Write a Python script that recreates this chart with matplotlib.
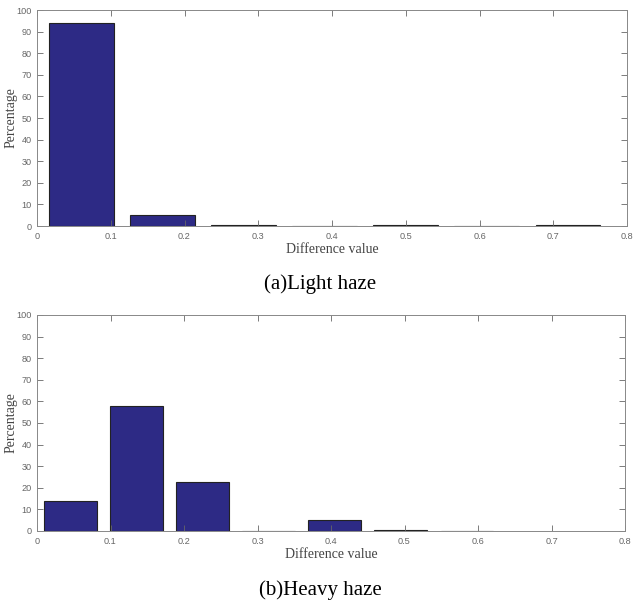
import numpy as np
import matplotlib
matplotlib.use("Agg")
import matplotlib.pyplot as plt

# histogram bin centres and percentages
light_centers = [0.06, 0.17, 0.28, 0.39, 0.50, 0.61, 0.72]
light_pct = [94.2, 5.0, 0.3, 0.2, 0.3, 0.0, 0.3]
heavy_centers = [0.045, 0.135, 0.225, 0.315, 0.405, 0.495, 0.585]
heavy_pct = [13.8, 58.0, 22.6, 0.0, 5.0, 0.3, 0.1]

captions = ["(a)Light haze", "(b)Heavy haze"]
x_ticks = [0, 0.1, 0.2, 0.3, 0.4, 0.5, 0.6, 0.7, 0.8]
y_ticks = list(range(0, 101, 10))

bar_color = "#2d2a85"
serif = "Liberation Serif"


def draw_panel(ax, centers, pct, width):
    ax.bar(centers, pct, width=width, color=bar_color, edgecolor="#222222", linewidth=0.8)
    ax.set_xlim(0, 0.8)
    ax.set_ylim(0, 100)
    ax.set_xticks(x_ticks)
    ax.set_xticklabels([f"{t:g}" for t in x_ticks])
    ax.set_yticks(y_ticks)
    ax.tick_params(direction="in", length=4, width=0.6, top=True, right=True,
                   labelsize=6.6, labelcolor="#666666", color="#666666", pad=4)
    for lab in ax.get_xticklabels() + ax.get_yticklabels():
        lab.set_fontfamily("Liberation Sans")
    for s in ax.spines.values():
        s.set_color("#888888")
        s.set_linewidth(0.7)
    ax.set_xlabel("Difference value", fontfamily=serif, fontsize=10, color="#444444", labelpad=2)
    ax.set_ylabel("Percentage", fontfamily=serif, fontsize=10, color="#444444")
    ax.yaxis.set_label_coords(-0.033, 0.5)


def main():
    fig = plt.figure(figsize=(6.33, 6.05), dpi=100)
    W, H = 633, 605
    ax1 = fig.add_axes([37 / W, 1 - 226 / H, 590 / W, 216 / H])
    ax2 = fig.add_axes([37 / W, 1 - 531 / H, 588 / W, 216 / H])

    draw_panel(ax1, light_centers, light_pct, 0.088)
    draw_panel(ax2, heavy_centers, heavy_pct, 0.072)

    fig.text(320 / W, 1 - 284 / H, captions[0], ha="center", va="center",
             fontfamily=serif, fontsize=15)
    fig.text(320 / W, 1 - 590 / H, captions[1], ha="center", va="center",
             fontfamily=serif, fontsize=15)

    fig.savefig("out.png", dpi=100)


if __name__ == "__main__":
    main()
